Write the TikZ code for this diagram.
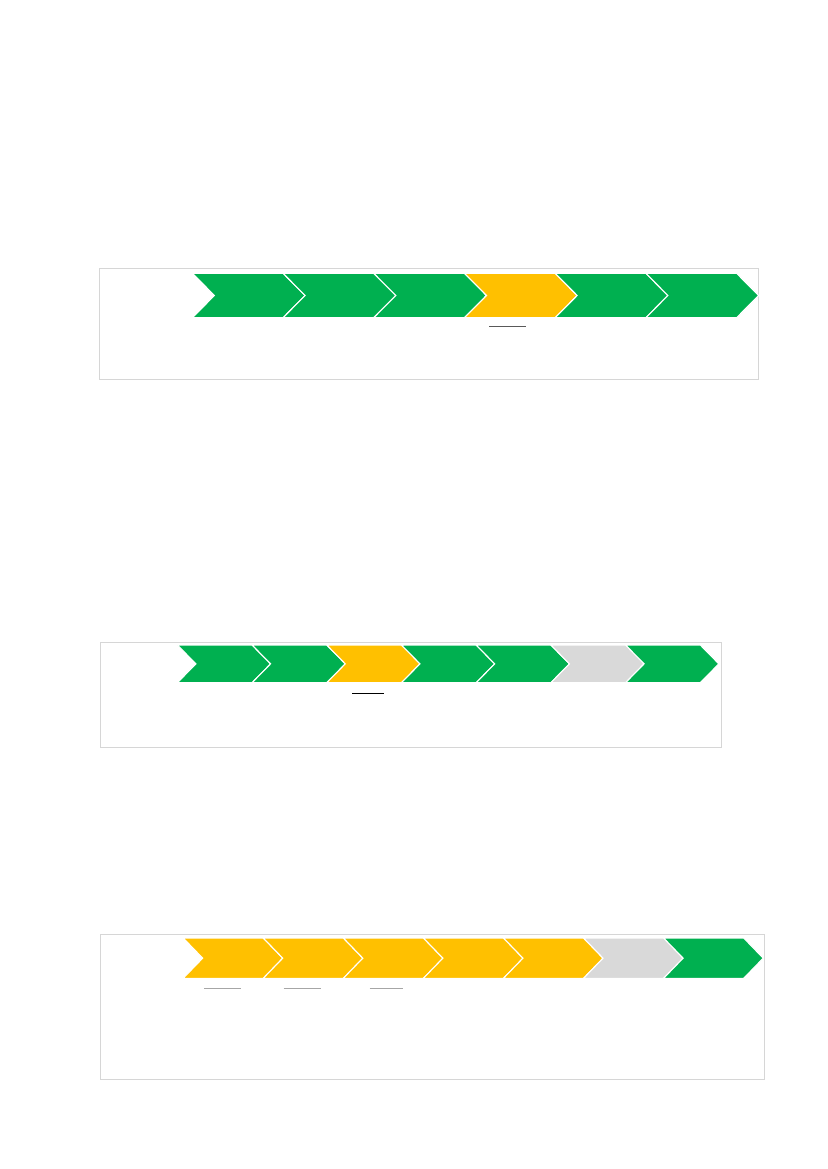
\documentclass[tikz,border=0pt]{standalone}
\usepackage{tikz}
\definecolor{cG}{HTML}{00B050}
\definecolor{cY}{HTML}{FFC000}
\definecolor{cN}{HTML}{D9D9D9}
\definecolor{frameC}{HTML}{D6D6D6}
\definecolor{ulineA}{HTML}{595959}
\definecolor{ulineB}{HTML}{A6A6A6}
\tikzset{
  panel/.style={draw=frameC, line width=0.9pt, fill=white},
  chevron/.style={draw=white, line width=1.1pt, line join=miter},
  uline/.style={line width=1pt},
}
% #1 x0, #2 step, #3 depth, #4 ytop, #5 ybottom, #6 colour list
\newcommand{\chevrow}[6]{%
  \foreach \c [count=\i from 0] in {#6} {
    \pgfmathsetmacro{\xa}{#1+\i*#2}
    \pgfmathsetmacro{\xb}{\xa+#2}
    \pgfmathsetmacro{\ym}{(#4+#5)/2}
    \fill[\c] (\xa,#4) -- (\xb,#4) -- (\xb+#3,\ym) -- (\xb,#5) -- (\xa,#5) -- (\xa+#3,\ym) -- cycle;
    \draw[chevron] (\xa,#4) -- (\xb,#4) -- (\xb+#3,\ym) -- (\xb,#5) -- (\xa,#5) -- (\xa+#3,\ym) -- cycle;
  }%
}
\begin{document}
\begin{tikzpicture}[x=1pt,y=-1pt]
\useasboundingbox (0,0) rectangle (827,1169);
\fill[white] (0,0) rectangle (827,1169);
% panel 1
\draw[panel] (99.3,268.3) rectangle (758.6,379.3);
\chevrow{192.4}{90.7}{22}{273.3}{317.7}{cG,cG,cG,cY,cG,cG}
\draw[uline, ulineA] (489,326.5) -- (526,326.5);
% panel 2
\draw[panel] (100.2,642.3) rectangle (721,747.3);
\chevrow{177.4}{74.7}{18.5}{645}{682.7}{cG,cG,cY,cG,cG,cN,cG}
\draw[uline, black] (352,693.3) -- (383.5,693.3);
% panel 3
\draw[panel] (100.6,934) rectangle (764.4,1079);
\chevrow{183.2}{80.07}{19.5}{938}{978.3}{cY,cY,cY,cY,cY,cN,cG}
\draw[uline, ulineB] (204.3,988.3) -- (240.5,988.3);
\draw[uline, ulineB] (283.5,988.3) -- (321,988.3);
\draw[uline, ulineB] (369.6,988.3) -- (403.2,988.3);
\end{tikzpicture}
\end{document}
